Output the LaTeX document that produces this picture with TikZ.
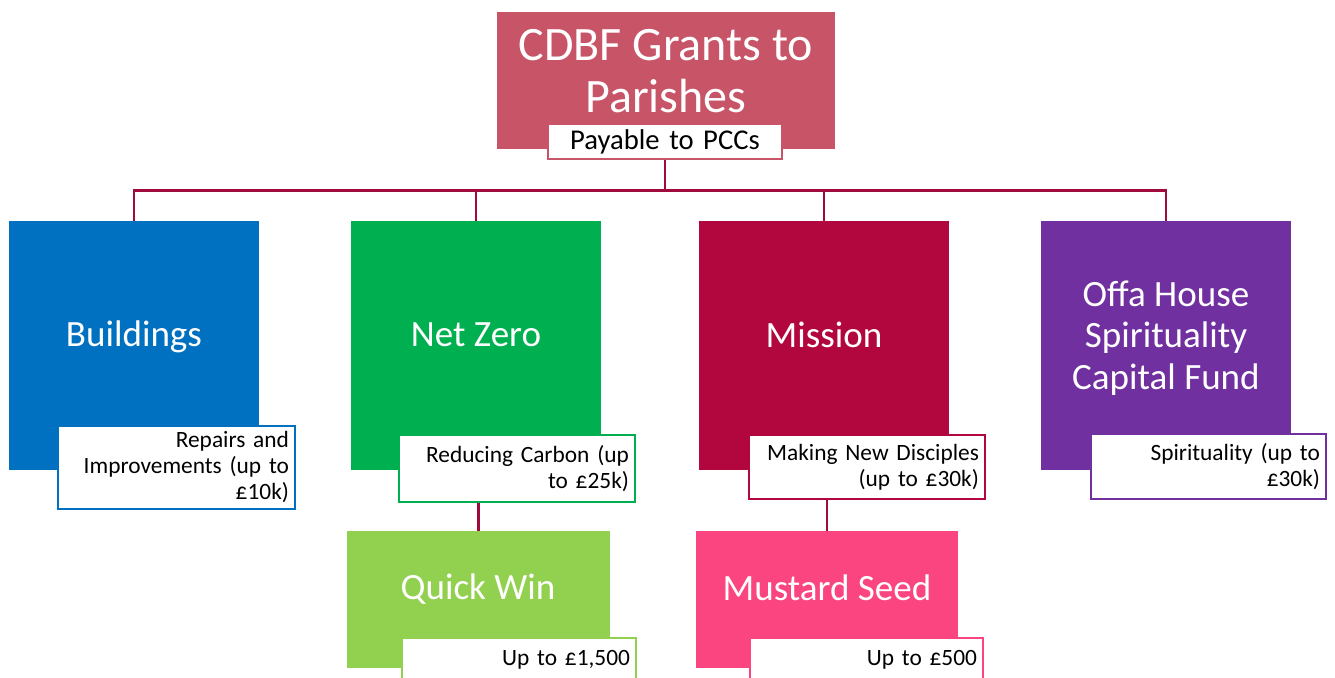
\documentclass[tikz,border=0pt]{standalone}
\usepackage{fontspec}
\setmainfont{Carlito}
\usetikzlibrary{positioning,calc}

\definecolor{rootred}{HTML}{C75567}
\definecolor{linkred}{HTML}{A00A3C}
\definecolor{bldblue}{HTML}{0070C0}
\definecolor{nzgreen}{HTML}{00B050}
\definecolor{misred}{HTML}{B2073E}
\definecolor{offapurple}{HTML}{7030A0}
\definecolor{qwgreen}{HTML}{92D050}
\definecolor{mspink}{HTML}{FA4580}

\tikzset{
	grant/.style={fill=#1, inner sep=0pt, minimum width=5cm, minimum height=4.98cm},
	tag/.style={draw=#1, line width=1.1pt, fill=white, inner xsep=0.12cm, inner ysep=0pt,
		text width=4.48cm, align=right, font=\fontsize{13.3}{14.8}\selectfont},
	bigtext/.style={text=white, align=center, inner sep=0pt, font=\fontsize{21.1}{23.8}\selectfont},
	link/.style={draw=linkred, line width=1.2pt},
}

\begin{document}
\begin{tikzpicture}[x=0.02cm, y=-0.02cm]
	\clip (0,0) rectangle (1335,678);

	% root of the tree
	\node[fill=rootred, inner sep=0pt, minimum width=6.76cm, minimum height=2.74cm] (root) at (666,80.5) {};
	\node[bigtext, font=\fontsize{27.3}{30}\selectfont] (title) at (666,71) {CDBF Grants to\\Parishes};
	\node[tag=rootred, text width=4.44cm, align=center, minimum height=0.7cm,
		font=\fontsize{16.3}{18}\selectfont] (pay) at (665,141.5) {Payable to PCCs};

	% the four grants
	\node[grant=bldblue] (build) at (134,345.5) {};
	\node[grant=nzgreen] (nzero) at (476,345.5) {};
	\node[grant=misred] (mission) at (824,345.5) {};
	\node[grant=offapurple] (offa) at (1166,345.5) {};

	\node[bigtext] (buildtxt) at (134,337) {Buildings};
	\node[bigtext] (nzerotxt) at (476,335) {Net Zero};
	\node[bigtext] (missiontxt) at (824,335) {Mission};
	\node[bigtext] (offatxt) at (1166,338) {Offa House\\Spirituality\\Capital Fund};

	\node[tag=bldblue, text width=4.5cm, minimum height=1.66cm] (buildtag) at (176.5,467.5)
		{Repairs and\\Improvements (up to\\£10k)};
	\node[tag=nzgreen, minimum height=1.34cm] (nztag) at (517,468.5)
		{Reducing Carbon (up\\to £25k)};
	\node[tag=misred, minimum height=1.28cm] (mistag) at (867,467)
		{Making New Disciples\\(up to £30k)};
	\node[tag=offapurple, text width=4.46cm, minimum height=1.3cm] (offatag) at (1208.5,466.5)
		{Spirituality (up to\\£30k)};

	% small grants
	\node[grant=qwgreen, minimum width=5.26cm, minimum height=2.74cm] (qwin) at (478.5,599.5) {};
	\node[grant=mspink, minimum width=5.24cm, minimum height=2.74cm] (mseed) at (827,599.5) {};

	\node[bigtext] (qwintxt) at (478,589) {Quick Win};
	\node[bigtext] (mseedtxt) at (827,588) {Mustard Seed};

	\node[tag=qwgreen, text width=4.44cm, anchor=north, inner ysep=0.24cm, text depth=1cm]
		(qwtag) at (519,637) {Up to £1,500};
	\node[tag=mspink, text width=4.42cm, anchor=north, inner ysep=0.24cm, text depth=1cm]
		(mstag) at (866.5,637) {Up to £500};

	% connectors
	\coordinate (bus) at (0,190.5);
	\draw[link] (pay.south) -- (pay.south |- bus) -| (build.north);
	\draw[link] (pay.south) -- (pay.south |- bus) -| (nzero.north);
	\draw[link] (pay.south) -- (pay.south |- bus) -| (mission.north);
	\draw[link] (pay.south) -- (pay.south |- bus) -| (offa.north);
	\draw[link] (qwin.north |- nztag.south) -- (qwin.north);
	\draw[link] (mseed.north |- mistag.south) -- (mseed.north);
\end{tikzpicture}
\end{document}
